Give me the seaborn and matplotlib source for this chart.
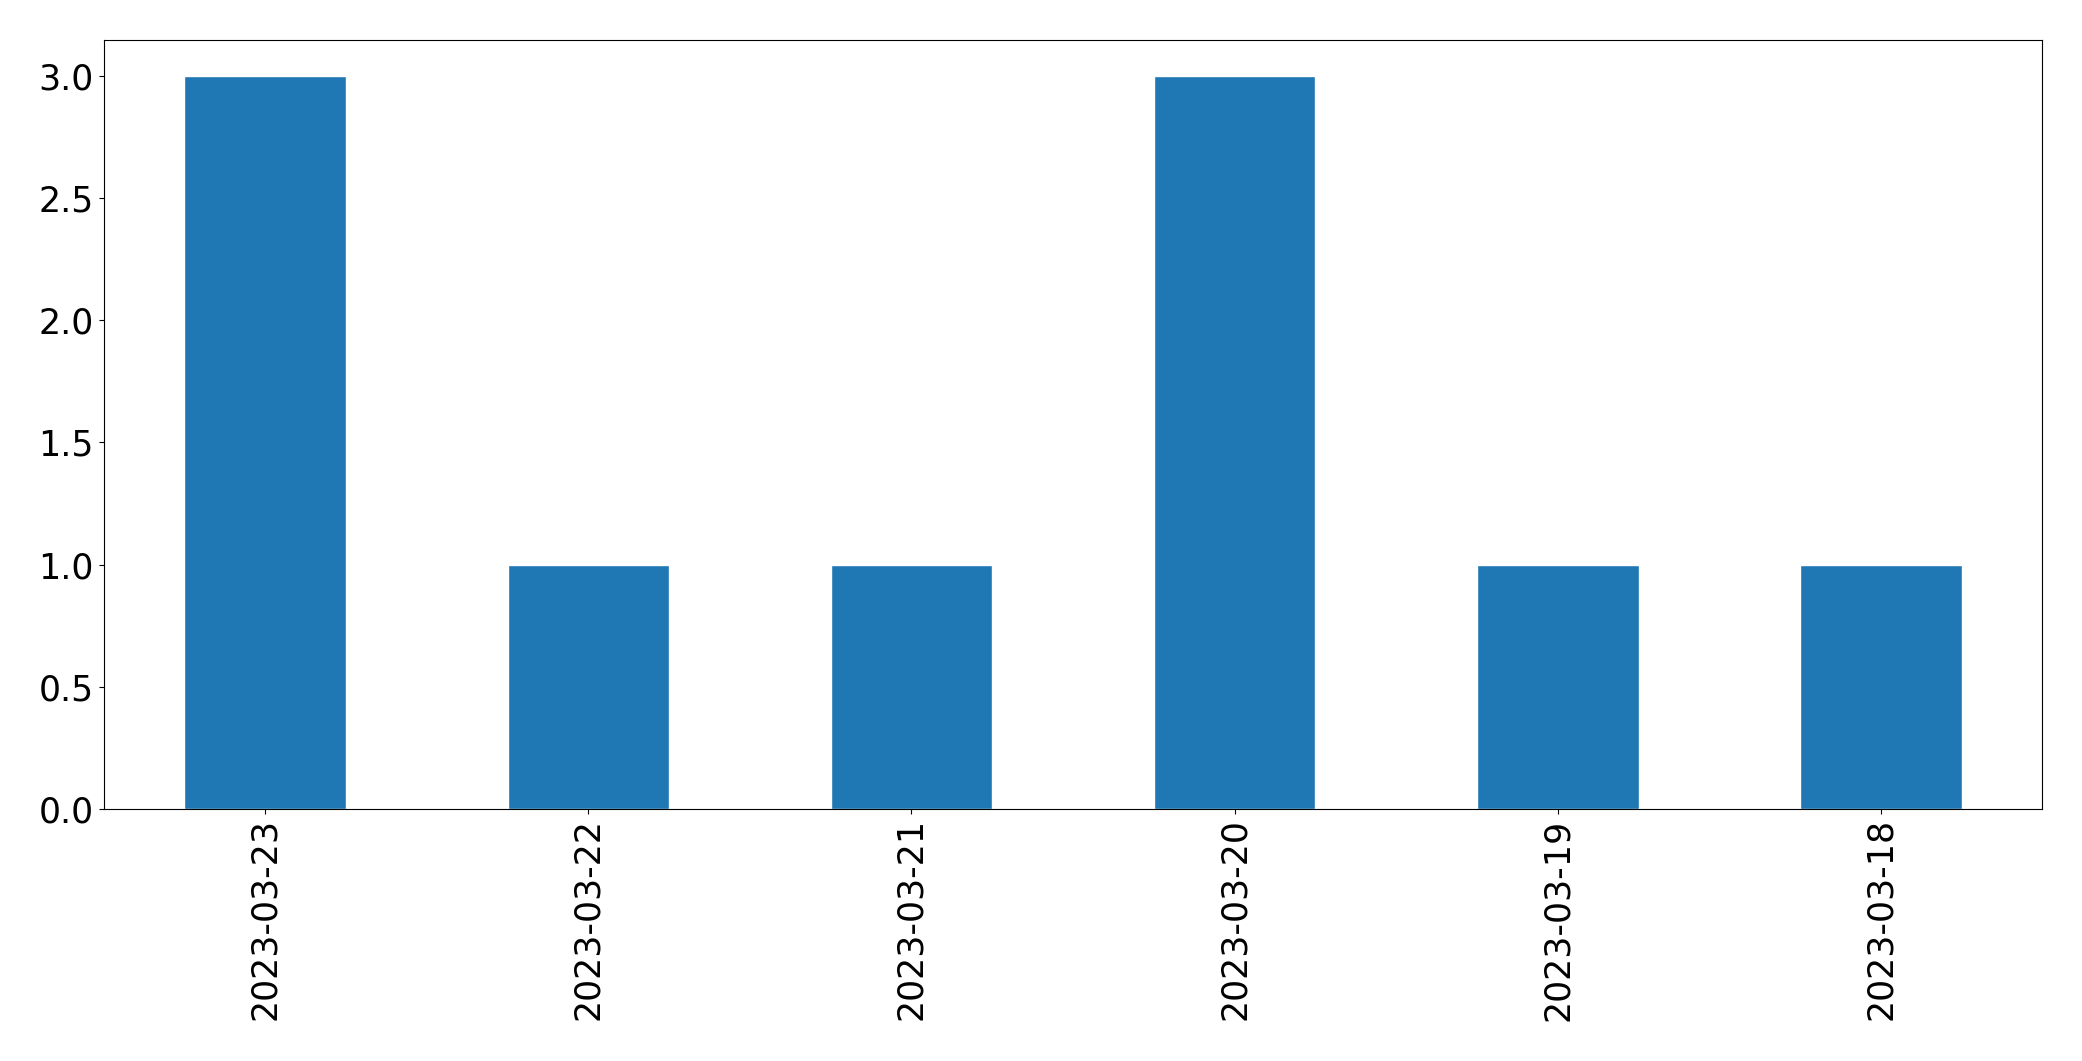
import pandas as pd
import matplotlib
matplotlib.use("Agg")
import matplotlib.pyplot as plt
import seaborn as sns

# counts per day, newest first as in the original
dates = ['2023-03-23', '2023-03-22', '2023-03-21', '2023-03-20', '2023-03-19', '2023-03-18']
counts = [3, 1, 1, 3, 1, 1]


def main():
    df = pd.DataFrame({'date': dates, 'count': counts})

    sns.set_style('ticks')
    plt.rcParams['font.family'] = ['DejaVu Sans']

    fig = plt.figure(figsize=(20.82, 10.61), dpi=100)
    ax = fig.add_axes([0.0498, 0.2379, 0.9312, 0.7246])
    sns.barplot(x='date', y='count', data=df, color='#1f77b4', saturation=1,
                width=0.5, ax=ax)

    ax.set_xlim(-0.5, len(dates) - 0.5)
    ax.set_ylim(0, 3.15)
    ax.set_xlabel('')
    ax.set_ylabel('')
    ax.tick_params(axis='both', labelsize=25, length=3.5, width=0.8,
                   colors='black', pad=3.5)
    plt.setp(ax.get_xticklabels(), rotation=90)
    for s in ax.spines.values():
        s.set_visible(True)
        s.set_linewidth(0.8)
        s.set_color('black')

    fig.savefig('out.png', dpi=100)


if __name__ == "__main__":
    main()
